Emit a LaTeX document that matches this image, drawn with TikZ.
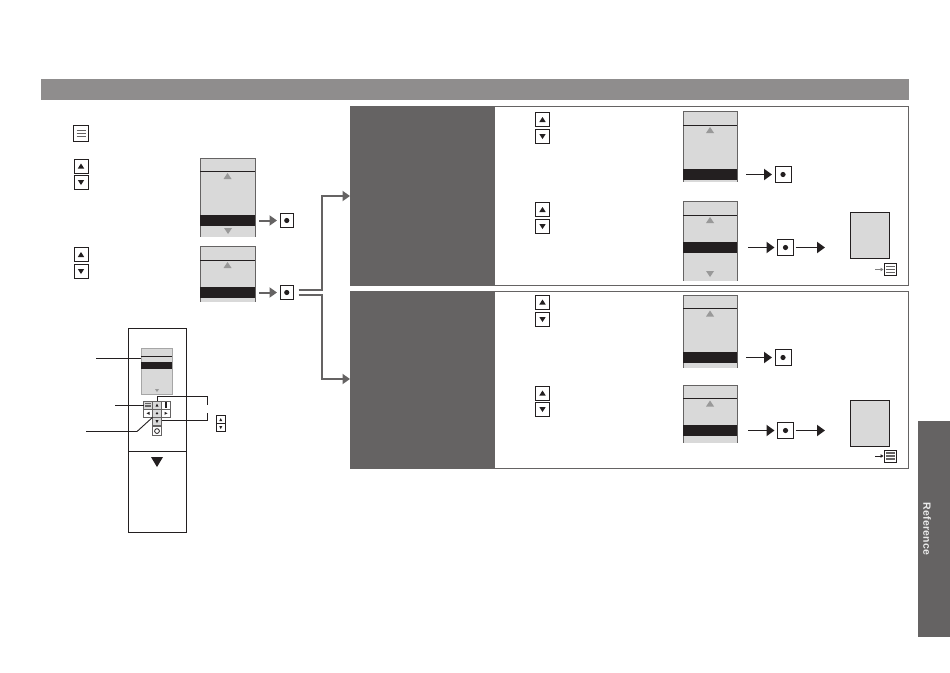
\documentclass[tikz,border=0pt]{standalone}
\usepackage{fontspec}
\setmainfont{Liberation Sans}
\usetikzlibrary{arrows.meta, calc}
\definecolor{bargray}{RGB}{143, 141, 141}
\definecolor{darkgray1}{RGB}{101, 99, 99}
\definecolor{screengray}{RGB}{217, 217, 217}
\definecolor{selblack}{RGB}{35, 31, 32}
\tikzset{
  box/.style={draw=selblack, line width=1pt, fill=white, anchor=north west, inner sep=0pt, outer sep=0pt},
  keyup/.style={box, minimum width=14pt, minimum height=14pt, path picture={
    \fill[selblack] ([shift={(-3.2,2.5)}]path picture bounding box.center) -- ++(6.4,0) -- ++(-3.2,-5) -- cycle;}},
  keydown/.style={box, minimum width=14pt, minimum height=14pt, path picture={
    \fill[selblack] ([shift={(-3.2,-2.5)}]path picture bounding box.center) -- ++(6.4,0) -- ++(-3.2,5) -- cycle;}},
  keyenter/.style={box, minimum width=16pt, minimum height=16pt, path picture={
    \fill[selblack] (path picture bounding box.center) circle (2.6pt);}},
  keymenu/.style={box, minimum width=12pt, minimum height=12pt, path picture={
    \foreach \dy in {-3,0,3}
      \draw[darkgray1, line width=1.2pt] ([shift={(-4.5,\dy)}]path picture bounding box.center) -- ++(9,0);}},
  screen/.style={fill=screengray, anchor=north west, inner sep=0pt, outer sep=0pt},
  selbar/.style={fill=selblack, anchor=north west, inner sep=0pt, outer sep=0pt, minimum height=11pt},
  result/.style={draw=selblack, line width=1pt, fill=screengray, anchor=north west, inner sep=0pt, outer sep=0pt, minimum width=39.5pt},
  panel/.style={draw=darkgray1, line width=0.9pt, anchor=north west, inner sep=0pt, outer sep=0pt, minimum width=558pt},
  side/.style={fill=darkgray1, anchor=north west, inner sep=0pt, outer sep=0pt, minimum width=145pt},
  pad/.style={draw=darkgray1, line width=0.8pt, anchor=north west, inner sep=0pt, outer sep=0pt, minimum width=9pt, minimum height=8.2pt, fill=white},
  graypad/.style={pad, fill=screengray},
  garrow/.style={-{Triangle[length=7.5pt,width=10pt]}, draw=darkgray1, line width=2pt},
  barrow/.style={-{Triangle[length=8pt,width=11pt]}, draw=selblack, line width=1.9pt},
  pics/uptri/.style={code={\fill[gray!80] (-4,3) -- (4,3) -- (0,-3) -- cycle;}},
  pics/downtri/.style={code={\fill[gray!80] (-4,-3) -- (4,-3) -- (0,3) -- cycle;}},
}
\begin{document}
\begin{tikzpicture}[x=1pt, y=-1pt]
  \useasboundingbox (0,0) rectangle (950,672);

  % header and thumb tab
  \node[side, minimum width=868pt, minimum height=21pt, fill=bargray] (header) at (41,79) {};
  \node[side, minimum width=32pt, minimum height=216pt] (tab) at (918,421) {};
  \node[rotate=-90, text=black!8] (tabtext) at (927,529) {\fontsize{10.5}{10.5}\selectfont\addfontfeature{LetterSpace=2.5}\bfseries Reference};

  % panels
  \node[panel, minimum height=179pt] (panelA) at (350,106) {};
  \node[side, minimum height=179pt] (sideA) at (350,106) {};
  \node[panel, minimum height=177pt] (panelB) at (350,291) {};
  \node[side, minimum height=177pt] (sideB) at (350,291) {};

  % screens: name/x/width/top/height/rule/bar
  \foreach \n/\x/\w/\y/\h/\r/\b in {L1/200/55/158/79/171/215, L2/200/55/246/56/260/287, A/683/54/111/71/125/169, B/683/54/201/80/215/242, C/683/54/295/73/308.5/352, D/683/54/385/58/398.5/425} {
    \node[screen, minimum width=\w pt, minimum height=\h pt] (scr\n) at (\x,\y) {};
    \draw[darkgray1, line width=0.9pt] (scr\n.north west) -- (scr\n.south west) (scr\n.north east) -- (scr\n.south east) (scr\n.north west) -- (scr\n.north east);
    \draw[selblack, line width=0.9pt] (\x,\r) -- ++(\w,0);
    \node[selbar, minimum width=\w pt] (bar\n) at (\x,\b) {};
    \pic at ($(\x,\r)+(\w/2,5)$) {uptri};
  }
  \pic at (228,231) {downtri};
  \pic at (710,274) {downtri};

  % keys on the left
  \node[keymenu, minimum width=15pt, minimum height=16pt] (keyM) at (73.5,125.5) {};
  \node[keyup] (upL1) at (74,159) {};
  \node[keydown] (downL1) at (74,175.5) {};
  \node[keyup] (upL2) at (74,247.5) {};
  \node[keydown] (downL2) at (74,264.5) {};
  \node[keyenter, minimum width=13.5pt, minimum height=14pt] (okL1) at (280,213.5) {};
  \node[keyenter, minimum width=13.5pt, minimum height=14pt] (okL2) at (280,285.5) {};
  \draw[garrow, shorten <=4pt, shorten >=3pt] (barL1) -- (okL1);
  \draw[garrow, shorten <=4pt, shorten >=3pt] (barL2.east) -- (barL2.east -| okL2.west);

  % keys on the right
  \foreach \n/\u/\d in {A/112.5/129.5, B/202.5/219.5, C/295/312.5, D/386/402.5} {
    \node[keyup] (up\n) at (535.5,\u) {};
    \node[keydown] (down\n) at (535.5,\d) {};
  }
  \node[keyenter] (okA) at (775,166.5) {};
  \node[keyenter] (okB) at (777.5,239.5) {};
  \node[keyenter] (okC) at (775,349.5) {};
  \node[keyenter] (okD) at (777.5,422.5) {};
  \draw[barrow, shorten <=9pt, shorten >=3pt] (barA) -- (okA);
  \draw[barrow, shorten <=11pt, shorten >=3pt] (barB) -- (okB);
  \draw[barrow, shorten <=9pt, shorten >=3pt] (barC) -- (okC);
  \draw[barrow, shorten <=11pt, shorten >=3pt] (barD) -- (okD);

  % result boxes
  \node[result, minimum height=46.5pt] (resB) at (850,212) {};
  \node[result, minimum height=46pt] (resD) at (850,400) {};
  \coordinate (tipB) at (825,247.5);
  \coordinate (tipD) at (825,430.5);
  \draw[barrow, shorten <=2pt] (okB) -- (tipB);
  \draw[barrow, shorten <=2pt] (okD) -- (tipD);
  \node[keymenu] (backB) at (884.5,263.5) {};
  \node[keymenu] (backD) at (884.5,450) {};
  \coordinate (fromB) at (875,269.5);
  \coordinate (fromD) at (875,456);
  \draw[-{Triangle[length=3pt,width=3.5pt]}, draw=gray, line width=0.7pt, shorten >=1pt] (fromB) -- (backB);
  \draw[-{Triangle[length=3pt,width=3.5pt]}, draw=selblack, line width=0.7pt, shorten >=1pt] (fromD) -- (backD);

  % fork to the two panels
  \coordinate (forkA) at (322,196);
  \coordinate (forkB) at (322,379);
  \draw[garrow, line join=miter] ($(okL2.east)+(5,-3)$) -| (forkA) -- (forkA -| sideA.west);
  \draw[garrow, line join=miter] ($(okL2.east)+(5,2)$) -| (forkB) -- (forkB -| sideB.west);

  % remote control
  \node[box, fill=none, minimum width=58pt, minimum height=204pt] (remote) at (128,328) {};
  \draw[selblack, line width=0.9pt] (128,451) -- (186,451);
  \node[screen, draw=gray!70, line width=0.6pt, minimum width=31pt, minimum height=46pt] (rscreen) at (141,348) {};
  \draw[selblack, line width=0.8pt] (141,356.5) -- ++(31,0);
  \node[selbar, minimum width=31pt, minimum height=6.5pt] (rbar) at (141,362) {};
  \fill[gray!80] (155,389) -- (159,389) -- (157,392) -- cycle;
  \fill[selblack] (151,457) -- (163,457) -- (157,467) -- cycle;

  % keypad
  \node[graypad] (padM) at (143.5,401) {};
  \node[graypad] (padU) at (152.5,401) {};
  \node[pad] (padI) at (161.5,401) {};
  \node[pad] (padL) at (143.5,409.2) {};
  \node[graypad] (padC) at (152.5,409.2) {};
  \node[pad] (padR) at (161.5,409.2) {};
  \node[graypad] (padD) at (152.5,417.4) {};
  \node[pad, minimum height=8.5pt] (padP) at (152.5,426.8) {};
  \fill[selblack] (padU.center) ++(-1.5,1.5) -- ++(3,0) -- ++(-1.5,-3) -- cycle;
  \fill[selblack] (padD.center) ++(-1.5,-1.5) -- ++(3,0) -- ++(-1.5,3) -- cycle;
  \fill[selblack] (padL.center) ++(1.5,-1.5) -- ++(0,3) -- ++(-3,-1.5) -- cycle;
  \fill[selblack] (padR.center) ++(-1.5,-1.5) -- ++(0,3) -- ++(3,-1.5) -- cycle;
  \fill[selblack] (padC) circle (1.3pt);
  \draw[selblack, line width=1.4pt] ($(padI.center)+(0,-3)$) -- ++(0,6);
  \draw[darkgray1, line width=0.9pt] ($(padM.center)+(-3,-1.5)$) -- ++(6,0) ++(-6,1.5) -- ++(6,0) ++(-6,1.5) -- ++(6,0);
  \draw[selblack, line width=0.8pt] (padP) circle (2.4pt);

  % callouts
  \coordinate (callA) at (96,358);
  \coordinate (callB) at (115,405.5);
  \coordinate (callC) at (86,431.5);
  \coordinate (callD) at (137,431.5);
  \coordinate (bendA) at (207.5,396.5);
  \coordinate (bendB) at (207.5,420);
  \coordinate (endA) at (207.5,405);
  \coordinate (endB) at (207.5,413);
  \draw[selblack, line width=0.9pt] (callA) -- (callA -| rscreen.west);
  \draw[selblack, line width=0.9pt] (callB) -- (callB -| padM.west);
  \draw[selblack, line width=0.9pt] (callC) -- (callD) -- (padC.south west);
  \draw[selblack, line width=0.9pt] (padU.north) |- (bendA) -- (endA);
  \draw[selblack, line width=0.9pt] (padD.east |- bendB) -- (bendB) -- (endB);

  % small key legend
  \node[keyup, minimum width=8.5pt, minimum height=8pt, path picture={\fill[selblack] ([shift={(-1.5,1.5)}]path picture bounding box.center) -- ++(3,0) -- ++(-1.5,-3) -- cycle;}] (legU) at (216.5,415.5) {};
  \node[keydown, minimum width=8.5pt, minimum height=8pt, path picture={\fill[selblack] ([shift={(-1.5,-1.5)}]path picture bounding box.center) -- ++(3,0) -- ++(-1.5,3) -- cycle;}] (legD) at (216.5,423.5) {};
\end{tikzpicture}
\end{document}
